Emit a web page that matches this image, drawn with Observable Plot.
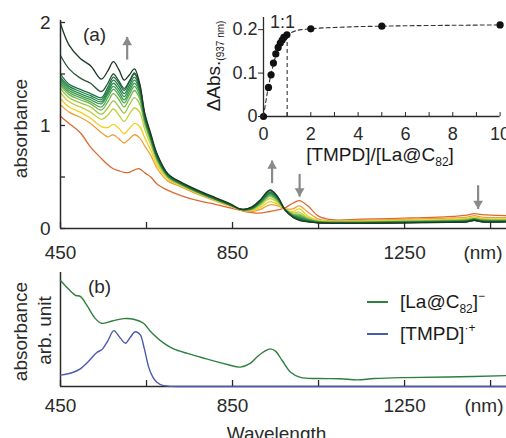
<!DOCTYPE html>
<html><head><meta charset="utf-8">
<script src="https://cdn.jsdelivr.net/npm/d3@7"></script>
<script src="https://cdn.jsdelivr.net/npm/@observablehq/plot@0.6"></script>
<style>
html,body{margin:0;padding:0;background:#fff;}
#wrap{position:relative;width:506px;height:438px;overflow:hidden;font-family:"Liberation Sans",Arial,sans-serif;color:#1a1a1a;}
.lbl{position:absolute;font-size:19px;line-height:19px;white-space:nowrap;}
.sb{font-size:12px;position:relative;top:5px;}
.sp{font-size:12px;position:relative;top:-8px;}
.row{position:absolute;display:flex;align-items:center;height:22px;font-size:19px;white-space:nowrap;}
.sw{display:inline-block;width:21px;height:2px;margin-right:12px;}
</style></head><body><div id="wrap"></div>
<script>
// ---------- Panel (a): titration spectra ----------
const wlA = [450,470,496,520,545,560,573,586,598,610,622,634,646,660,675,700,730,770,810,845,870,895,915,937,955,972,990,1005,1025,1050,1080,1150,1250,1350,1395,1412,1430,1490];
const ratios = [0,0.21,0.32,0.42,0.52,0.62,0.71,0.79,0.86,0.99,2,5,10];
const colorsA = ["#dc6a30","#efa03c","#f4cf1f","#c3d13e","#9cc548","#74b54c","#52a74e","#3a9a4d","#2b8d4b","#207f47","#1a7040","#2f5638","#1d3b24"];
const r0    = [1.09,1.02,0.93,0.79,0.68,0.62,0.58,0.56,0.545,0.545,0.57,0.58,0.54,0.50,0.43,0.37,0.32,0.27,0.235,0.20,0.175,0.155,0.15,0.165,0.18,0.20,0.245,0.27,0.22,0.12,0.085,0.09,0.10,0.115,0.13,0.145,0.135,0.125];
const r021  = [1.20,1.13,1.08,1.02,0.93,0.89,0.91,0.87,0.83,0.87,0.91,0.88,0.80,0.71,0.58,0.46,0.405,0.33,0.268,0.215,0.18,0.165,0.185,0.23,0.22,0.193,0.19,0.22,0.16,0.09,0.075,0.08,0.09,0.10,0.11,0.125,0.11,0.105];
const r032  = [1.26,1.18,1.13,1.07,0.99,0.98,1.01,0.97,0.92,0.97,1.02,0.99,0.88,0.76,0.61,0.48,0.415,0.34,0.274,0.22,0.182,0.175,0.205,0.26,0.235,0.19,0.165,0.19,0.12,0.078,0.07,0.072,0.08,0.088,0.098,0.112,0.098,0.092];
const r042  = [1.32,1.23,1.18,1.13,1.06,1.10,1.16,1.10,1.04,1.11,1.17,1.13,0.96,0.81,0.64,0.49,0.42,0.343,0.277,0.222,0.184,0.18,0.225,0.29,0.25,0.188,0.152,0.16,0.105,0.072,0.066,0.068,0.074,0.082,0.09,0.104,0.09,0.085];
const r052  = [1.36,1.27,1.22,1.18,1.11,1.17,1.24,1.18,1.12,1.20,1.27,1.21,1.01,0.84,0.66,0.498,0.425,0.347,0.28,0.224,0.185,0.186,0.238,0.31,0.265,0.187,0.142,0.14,0.095,0.068,0.063,0.064,0.07,0.078,0.085,0.099,0.085,0.08];
const r062  = [1.39,1.30,1.25,1.21,1.15,1.23,1.31,1.25,1.18,1.26,1.34,1.26,1.03,0.855,0.67,0.503,0.428,0.35,0.282,0.226,0.186,0.19,0.245,0.32,0.272,0.186,0.135,0.13,0.09,0.066,0.061,0.062,0.068,0.075,0.082,0.096,0.082,0.078];
const r071  = [1.41,1.32,1.27,1.23,1.18,1.27,1.35,1.29,1.22,1.30,1.38,1.29,1.05,0.865,0.675,0.507,0.43,0.352,0.284,0.227,0.186,0.192,0.25,0.33,0.28,0.185,0.13,0.12,0.086,0.064,0.059,0.06,0.066,0.072,0.08,0.093,0.08,0.076];
const r079  = [1.43,1.34,1.29,1.25,1.21,1.30,1.38,1.32,1.25,1.33,1.41,1.32,1.06,0.875,0.68,0.51,0.433,0.354,0.285,0.228,0.186,0.194,0.255,0.34,0.285,0.184,0.126,0.11,0.082,0.062,0.057,0.058,0.064,0.07,0.077,0.09,0.077,0.074];
const r086  = [1.45,1.36,1.31,1.27,1.23,1.32,1.41,1.35,1.28,1.36,1.44,1.34,1.07,0.88,0.685,0.512,0.435,0.356,0.287,0.229,0.186,0.196,0.26,0.345,0.29,0.183,0.123,0.105,0.078,0.06,0.056,0.057,0.062,0.068,0.075,0.088,0.075,0.072];
const r099  = [1.47,1.38,1.33,1.29,1.25,1.34,1.44,1.38,1.31,1.39,1.47,1.36,1.08,0.885,0.69,0.515,0.437,0.358,0.288,0.23,0.186,0.198,0.265,0.35,0.292,0.182,0.12,0.10,0.075,0.058,0.054,0.055,0.06,0.066,0.072,0.085,0.072,0.07];
const r2    = [1.50,1.40,1.35,1.31,1.27,1.37,1.47,1.41,1.34,1.42,1.50,1.38,1.09,0.89,0.70,0.52,0.44,0.36,0.29,0.232,0.186,0.20,0.27,0.365,0.30,0.181,0.115,0.09,0.07,0.056,0.052,0.052,0.058,0.063,0.068,0.08,0.068,0.068];
const r5    = [1.68,1.55,1.46,1.41,1.33,1.41,1.50,1.43,1.36,1.43,1.51,1.39,1.10,0.90,0.71,0.525,0.445,0.365,0.295,0.235,0.186,0.205,0.275,0.37,0.305,0.18,0.113,0.085,0.066,0.055,0.05,0.05,0.055,0.06,0.065,0.078,0.065,0.065];
const r10   = [1.99,1.78,1.65,1.58,1.45,1.53,1.62,1.54,1.44,1.49,1.55,1.41,1.12,0.92,0.72,0.53,0.45,0.37,0.30,0.24,0.186,0.21,0.28,0.375,0.31,0.18,0.11,0.08,0.065,0.055,0.05,0.05,0.055,0.06,0.065,0.08,0.065,0.065];
const seriesA = [r0,r021,r032,r042,r052,r062,r071,r079,r086,r099,r2,r5,r10];

// arrows in panel (a)
const arrowW    = [605, 942, 1006, 1421];
const arrowFrom = [1.64, 0.44, 0.53, 0.42];
const arrowTo   = [1.86, 0.66, 0.31, 0.19];
const arrowUp   = [true, true, false, false];

// axis ticks (a)/(b)
const xDomain = [450, 1487];
const xTicksAll = [450, 650, 850, 1050, 1250, 1450];
const xTickLabels = [450, 850, 1250];
const yTicksA = [0, 0.5, 1, 1.5, 2];
const yTickLabelsA = [0, 1, 2];

// ---------- Inset ----------
const dAbs = [0, 0.067, 0.096, 0.123, 0.144, 0.159, 0.169, 0.176, 0.182, 0.188, 0.202, 0.208, 0.211];
const fitX = [0,0.1,0.2,0.3,0.4,0.5,0.6,0.7,0.8,0.9,1.0,1.2,1.4,1.6,1.8,2.0,2.5,3,4,5,6,8,10];
const fitY = [0,0.035,0.066,0.093,0.116,0.136,0.152,0.164,0.174,0.181,0.187,0.194,0.198,0.2,0.201,0.202,0.204,0.205,0.207,0.208,0.209,0.21,0.211];
const insetXTicks = [0,1,2,3,4,5,6,7,8,9,10];
const insetXLabels = [0,2,4,6,8,10];
const insetYTicks = [0, 0.1, 0.2];

// ---------- Panel (b) ----------
const wlB = [450,470,485,496,510,530,545,570,597,620,643,660,690,713,745,776,810,838,868,890,910,925,938,950,965,985,1008,1050,1100,1140,1180,1250,1350,1490];
const laC82 = [0.93,0.85,0.80,0.79,0.72,0.60,0.555,0.575,0.595,0.59,0.555,0.48,0.38,0.33,0.29,0.257,0.22,0.193,0.17,0.20,0.27,0.31,0.33,0.31,0.23,0.125,0.08,0.07,0.068,0.058,0.07,0.078,0.083,0.096];
const wlTMPD = [450,480,496,515,535,548,560,574,588,601,612,624,636,645,655,665,675,690,720,1490];
const tmpd = [0.10,0.125,0.155,0.22,0.30,0.33,0.40,0.49,0.43,0.38,0.43,0.48,0.45,0.33,0.17,0.08,0.035,0.008,0,0];
const legendColors = ["#2f7f3e", "#4a5ab0"];

const AX = "#2a2a2a";
const FONT = "Liberation Sans, Arial, sans-serif";
const wrap = document.getElementById("wrap");
function place(el, left, top) {
  el.style.position = "absolute"; el.style.left = left + "px"; el.style.top = top + "px";
  wrap.appendChild(el); return el;
}
const TXT = {textAnchor: "middle", lineAnchor: "middle"};

// ----- main (a) -----
const rowsA = [];
seriesA.forEach((vals, i) => vals.forEach((v, j) => rowsA.push({i, w: wlA[j], a: v})));
const arrows = arrowW.map((w, i) => ({w, from: arrowFrom[i], to: arrowTo[i], up: arrowUp[i]}));

const plotA = Plot.plot({
  width: 506, height: 262, marginLeft: 60, marginRight: 0, marginTop: 22, marginBottom: 34,
  style: {fontFamily: FONT, fontSize: "19px", background: "transparent", color: AX, overflow: "visible"},
  x: {domain: xDomain}, y: {domain: [0, 2]}, color: {type: "identity"},
  marks: [
    Plot.line(rowsA, {x: "w", y: "a", z: "i", stroke: d => colorsA[d.i], strokeWidth: 1.3, curve: "catmull-rom"}),
    Plot.link(arrows, {x1: "w", x2: "w", y1: "from", y2: "to", stroke: "#8a8a8a", strokeWidth: 2.2}),
    Plot.dot(arrows.filter(d => d.up), {x: "w", y: "to", symbol: "triangle", r: 3.6, fill: "#8a8a8a", stroke: "none", dy: 5.5}),
    Plot.dot(arrows.filter(d => !d.up), {x: "w", y: "to", symbol: "triangle", r: 3.6, fill: "#8a8a8a", stroke: "none", rotate: 180, dy: -5.5}),
    Plot.ruleY([0], {stroke: AX, strokeWidth: 1.5}),
    Plot.ruleX([xDomain[0]], {y1: 0, y2: 2.02, stroke: AX, strokeWidth: 1.5}),
    Plot.axisX({ticks: xTicksAll, tickSize: 6, dy: -6, tickFormat: () => "", label: null, strokeWidth: 1.3}),
    Plot.axisX({ticks: xTickLabels, tickSize: 0, tickPadding: 17, tickFormat: d => String(d), label: null}),
    Plot.axisY({ticks: yTicksA, tickSize: 5, dx: 5, tickFormat: () => "", label: null, strokeWidth: 1.3}),
    Plot.axisY({ticks: yTickLabelsA, tickSize: 0, tickPadding: 10, tickFormat: d => String(d), label: null}),
    Plot.text(["(nm)"], {frameAnchor: "bottom-right", dx: -4, dy: 24, textAnchor: "end", lineAnchor: "middle"}),
    Plot.text(["absorbance"], {...TXT, frameAnchor: "left", dx: -40, dy: 3, rotate: -90}),
    Plot.text(["(a)"], {...TXT, frameAnchor: "top-left", dx: 34, dy: 12})
  ]
});
place(plotA, 0, 0);

// ----- inset -----
const pts = ratios.map((r, i) => ({x: r, y: dAbs[i]}));
const fit = fitX.map((x, i) => ({x, y: fitY[i]}));
const insetY = [0, 0.228];
const plotI = Plot.plot({
  width: 306, height: 170, marginLeft: 63, marginRight: 6.4, marginTop: 17, marginBottom: 54,
  style: {fontFamily: FONT, fontSize: "18px", background: "transparent", color: AX, overflow: "visible"},
  x: {domain: [0, 10]}, y: {domain: insetY},
  marks: [
    Plot.line(fit, {x: "x", y: "y", stroke: "#333", strokeWidth: 1.1, strokeDasharray: "4,3", curve: "catmull-rom"}),
    Plot.ruleX([ratios[9] + 0.01], {y1: 0, y2: fitY[10], stroke: "#333", strokeWidth: 1.1, strokeDasharray: "4,3"}),
    Plot.ruleY([0], {stroke: AX, strokeWidth: 1.3}),
    Plot.ruleX([0], {y1: 0, y2: insetY[1], stroke: AX, strokeWidth: 1.3}),
    Plot.dot(pts, {x: "x", y: "y", r: 3.6, fill: "#111", stroke: "none"}),
    Plot.axisX({ticks: insetXTicks, tickSize: 4, dy: -4, tickFormat: () => "", label: null}),
    Plot.axisX({ticks: insetXLabels, tickSize: 0, tickPadding: 11, tickFormat: d => String(d), label: null}),
    Plot.axisY({ticks: insetYTicks, tickSize: 5, tickPadding: 1, tickFormat: d => d === 0 ? "0" : d.toFixed(1), label: null}),
    Plot.text(["1:1"], {...TXT, x: 0.8, y: 0.217, fontSize: 18})
  ]
});
place(plotI, 200, 0);

// ----- panel (b) -----
const rowsB = wlB.map((w, i) => ({w, v: laC82[i]}));
const rowsT = wlTMPD.map((w, i) => ({w, v: tmpd[i]}));
const plotB = Plot.plot({
  width: 506, height: 176, marginLeft: 60, marginRight: 0, marginTop: 10, marginBottom: 52,
  style: {fontFamily: FONT, fontSize: "19px", background: "transparent", color: AX, overflow: "visible"},
  x: {domain: xDomain}, y: {domain: [0, 1], axis: null},
  marks: [
    Plot.ruleY([0], {stroke: AX, strokeWidth: 1.5}),
    Plot.ruleX([xDomain[0]], {y1: 0, y2: 1, stroke: AX, strokeWidth: 1.5}),
    Plot.line(rowsB, {x: "w", y: "v", stroke: legendColors[0], strokeWidth: 1.4, curve: "catmull-rom"}),
    Plot.line(rowsT, {x: "w", y: "v", stroke: legendColors[1], strokeWidth: 1.4, curve: "monotone-x"}),
    Plot.axisX({ticks: xTicksAll, tickSize: 6, dy: -6, tickFormat: () => "", label: null, strokeWidth: 1.3}),
    Plot.axisX({ticks: xTickLabels, tickSize: 0, tickPadding: 12, tickFormat: d => String(d), label: null}),
    Plot.text(["(nm)"], {frameAnchor: "bottom-right", dx: -3, dy: 19, textAnchor: "end", lineAnchor: "middle"}),
    Plot.text(["Wavelength"], {...TXT, frameAnchor: "bottom", dx: -7, dy: 47}),
    Plot.text(["absorbance"], {...TXT, frameAnchor: "left", dx: -40, dy: 2, rotate: -90}),
    Plot.text(["arb. unit"], {...TXT, frameAnchor: "left", dx: -16, dy: 1, rotate: -90}),
    Plot.text(["(b)"], {...TXT, frameAnchor: "top-left", dx: 39, dy: 14})
  ]
});
place(plotB, 0, 262);

// ----- rich-text labels (HTML) -----
function addLabel(html, left, top, transform) {
  const d = document.createElement("div");
  d.className = "lbl"; d.innerHTML = html;
  d.style.left = left + "px"; d.style.top = top + "px";
  d.style.transform = transform;
  wrap.appendChild(d);
  return d;
}
addLabel('[TMPD]/[La@C<span class="sb">82</span>]', 380, 156, "translate(-50%,-50%)");
addLabel('ΔAbs.<span class="sb" style="font-size:10px;top:4px">(937 nm)</span>', 215, 66, "translate(-50%,-50%) rotate(-90deg)");

const legendLabels = ['[La@C<span class="sb">82</span>]<span class="sp">&minus;</span>', '[TMPD]<span class="sp">&middot;+</span>'];
const legendTops = [291, 323];
legendLabels.forEach((lab, i) => {
  const row = document.createElement("div");
  row.className = "row";
  row.style.left = "367px"; row.style.top = legendTops[i] + "px";
  row.innerHTML = `<span class="sw" style="background:${legendColors[i]}"></span><span>${lab}</span>`;
  wrap.appendChild(row);
});
</script></body></html>
